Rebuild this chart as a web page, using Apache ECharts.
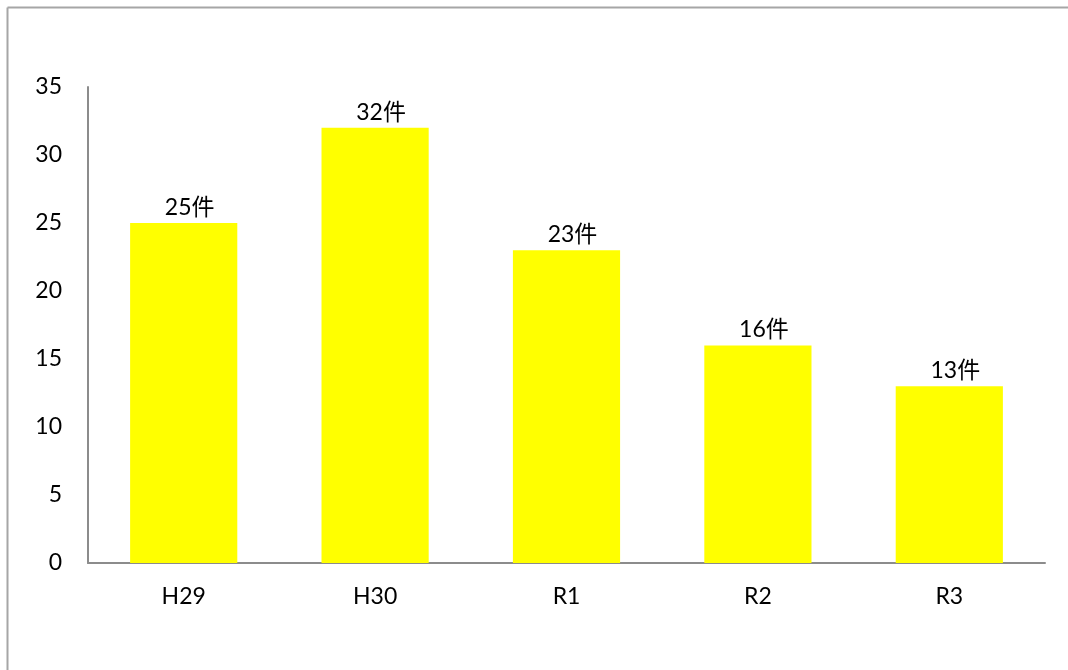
<!DOCTYPE html>
<html>
<head>
<meta charset="utf-8">
<script src="https://cdn.jsdelivr.net/npm/echarts@6/dist/echarts.min.js"></script>
<style>
  html, body { margin: 0; padding: 0; background: #fff; }
  #main { width: 1068px; height: 670px; }
</style>
</head>
<body>
<div id="main"></div>
<script>
var years = ['H29', 'H30', 'R1', 'R2', 'R3']
var counts = [25, 32, 23, 16, 13]
var yTicks = [0, 35, 5]  // min, max, interval

var chart = echarts.init(document.getElementById('main'))
var font = 'Lato, "Noto Sans CJK JP", sans-serif'

var option = {
    animation: false,
    backgroundColor: '#fff',
    graphic: [
        { type: 'line', shape: { x1: 7.5, y1: 7.5, x2: 1068, y2: 7.5 }, style: { stroke: '#a6a6a6', lineWidth: 2 } },
        { type: 'line', shape: { x1: 7.5, y1: 7.5, x2: 7.5, y2: 670 }, style: { stroke: '#a6a6a6', lineWidth: 2 } }
    ],
    grid: { left: 88, right: 23, top: 87, bottom: 107, containLabel: false },
    xAxis: {
        type: 'category',
        data: years,
        axisLine: { lineStyle: { color: '#8c8c8c', width: 2 } },
        axisTick: { show: false },
        axisLabel: { color: '#000', fontSize: 23, fontFamily: font, margin: 22 }
    },
    yAxis: {
        type: 'value',
        min: yTicks[0],
        max: yTicks[1],
        interval: yTicks[2],
        axisLine: { show: true, lineStyle: { color: '#8c8c8c', width: 2 } },
        axisTick: { show: false },
        splitLine: { show: false },
        axisLabel: { color: '#000', fontSize: 23, fontFamily: font, margin: 26 }
    },
    series: [
        {
            type: 'bar',
            data: counts,
            barCategoryGap: '44%',
            itemStyle: { color: '#ffff00' },
            label: {
                show: true,
                position: 'top',
                distance: 4,
                offset: [6, 0],
                color: '#000',
                fontSize: 23,
                fontFamily: font,
                formatter: '{c}件'
            }
        }
    ]
}

chart.setOption(option)
</script>
</body>
</html>
